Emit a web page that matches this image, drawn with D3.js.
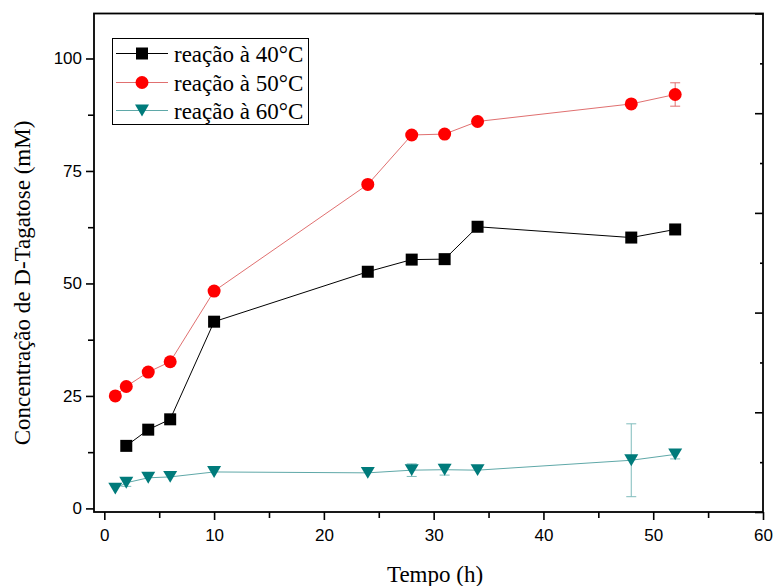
<!DOCTYPE html>
<html>
<head>
<meta charset="utf-8">
<script src="https://cdn.jsdelivr.net/npm/d3@7"></script>
<style>
  html, body { margin: 0; padding: 0; background: #fff; }
  svg { display: block; }
</style>
</head>
<body>
<svg id="chart" width="777" height="586"></svg>
<script>
// ---- data ----
const hours40 = [2, 4, 6, 10, 24, 28, 31, 34, 48, 52];
const values40 = [13.9, 17.5, 19.8, 41.5, 52.6, 55.3, 55.4, 62.6, 60.2, 62.0];
const errors40 = [0, 0, 0, 0, 0, 0, 0, 0, 0, 0];

const hours50 = [1, 2, 4, 6, 10, 24, 28, 31, 34, 48, 52];
const values50 = [25.0, 27.1, 30.3, 32.6, 48.3, 72.0, 83.0, 83.2, 86.0, 89.9, 92.0];
const errors50 = [0, 0, 0, 0, 0, 0, 0, 0, 0, 0, 2.6];

const hours60 = [1, 2, 4, 6, 10, 24, 28, 31, 34, 48, 52];
const values60 = [4.4, 5.7, 6.8, 7.0, 8.1, 7.9, 8.5, 8.6, 8.5, 10.7, 12.0];
const errors60 = [0, 0.8, 0, 0, 0, 0, 1.4, 1.2, 0, 8.1, 1.0];

const seriesNames = ["reação à 40°C", "reação à 50°C", "reação à 60°C"];
const xTicks = [0, 10, 20, 30, 40, 50, 60];
const xMinorTicks = [5, 15, 25, 35, 45, 55];
const yTicks = [0, 25, 50, 75, 100];
const yMinorTicks = [12.5, 37.5, 62.5, 87.5];
const xTitle = "Tempo (h)";
const yTitle = "Concentração de D-Tagatose (mM)";

// ---- layout ----
const svg = d3.select("#chart");
const plotL = 94, plotR = 763, plotT = 13.5, plotB = 512;

const x = d3.scaleLinear().domain([-0.94, 60]).range([plotL, plotR]);
const y = d3.scaleLinear().domain([-0.8, 110]).range([plotB, plotT]);
const yRight = d3.scaleLinear().domain([0, 100]).range([plotB, plotT]);

const series = [
  { name: seriesNames[0], xs: hours40, ys: values40, es: errors40, marker: "square",
    fill: "#000000", line: "#000000", err: "#555555" },
  { name: seriesNames[1], xs: hours50, ys: values50, es: errors50, marker: "circle",
    fill: "#ff0000", line: "#e07070", err: "#e07070" },
  { name: seriesNames[2], xs: hours60, ys: values60, es: errors60, marker: "triangle",
    fill: "#007b7b", line: "#5fa8a8", err: "#7fbcbc" }
];

const sansFont = "'Liberation Sans', Arial, sans-serif";
const serifFont = "'Liberation Serif', 'Times New Roman', serif";

// ---- axes ----
const gx = svg.append("g").attr("transform", `translate(0,${plotB})`)
  .call(d3.axisBottom(x).tickValues(xTicks).tickSize(8).tickPadding(9).tickFormat(d3.format("d")));
const gxMinor = svg.append("g").attr("transform", `translate(0,${plotB})`)
  .call(d3.axisBottom(x).tickValues(xMinorTicks).tickSize(6).tickFormat(""));

const gy = svg.append("g").attr("transform", `translate(${plotL},0)`)
  .call(d3.axisLeft(y).tickValues(yTicks).tickSize(8).tickPadding(4).tickFormat(d3.format("d")));
const gyMinor = svg.append("g").attr("transform", `translate(${plotL},0)`)
  .call(d3.axisLeft(y).tickValues(yMinorTicks).tickSize(6).tickFormat(""));

const gr = svg.append("g").attr("transform", `translate(${plotR},0)`)
  .call(d3.axisRight(yRight).tickValues([0, 20, 40, 60, 80, 100]).tickSize(-8).tickFormat(""));
const grMinor = svg.append("g").attr("transform", `translate(${plotR},0)`)
  .call(d3.axisRight(yRight).tickValues([10, 30, 50, 70, 90]).tickSize(-3).tickFormat(""));

[gx, gxMinor, gy, gyMinor, gr, grMinor].forEach(g => {
  g.select(".domain").remove();
  g.selectAll(".tick line").attr("stroke", "#000").attr("stroke-width", 1.6);
  g.selectAll(".tick text").attr("fill", "#000").style("font-family", sansFont).style("font-size", "17px");
});

// frame
svg.append("rect").attr("x", plotL).attr("y", plotT)
  .attr("width", plotR - plotL).attr("height", plotB - plotT)
  .attr("fill", "none").attr("stroke", "#000").attr("stroke-width", 1.8);

// axis titles
svg.append("text").attr("x", 435).attr("y", 582)
  .attr("text-anchor", "middle").style("font-family", serifFont).style("font-size", "23px")
  .text(xTitle);
svg.append("text").attr("transform", `translate(30,283) rotate(-90)`)
  .attr("text-anchor", "middle").style("font-family", serifFont).style("font-size", "23px")
  .text(yTitle);

// ---- marker paths ----
function markerPath(type, size) {
  if (type === "square") return d3.symbol().type(d3.symbolSquare).size(size * size)();
  if (type === "circle") return d3.symbol().type(d3.symbolCircle).size(Math.PI * (size / 2) * (size / 2))();
  const h = size * 0.85, w = size / 2;
  return `M${-w},${-h / 2}L${w},${-h / 2}L0,${h / 2}Z`;
}
const markerSize = { square: 12, circle: 13, triangle: 14 };

// ---- series ----
series.forEach(s => {
  const pts = s.xs.map((d, i) => ({ x: d, y: s.ys[i], e: s.es[i] }));
  const g = svg.append("g");
  g.append("path").datum(pts)
    .attr("fill", "none").attr("stroke", s.line).attr("stroke-width", 1)
    .attr("d", d3.line().x(d => x(d.x)).y(d => y(d.y)));
  const eb = g.selectAll(".err").data(pts.filter(d => d.e > 0)).enter().append("g");
  eb.append("line").attr("x1", d => x(d.x)).attr("x2", d => x(d.x))
    .attr("y1", d => y(d.y - d.e)).attr("y2", d => y(d.y + d.e))
    .attr("stroke", s.err).attr("stroke-width", 1);
  eb.append("line").attr("x1", d => x(d.x) - 5).attr("x2", d => x(d.x) + 5)
    .attr("y1", d => y(d.y + d.e)).attr("y2", d => y(d.y + d.e))
    .attr("stroke", s.err).attr("stroke-width", 1);
  eb.append("line").attr("x1", d => x(d.x) - 5).attr("x2", d => x(d.x) + 5)
    .attr("y1", d => y(d.y - d.e)).attr("y2", d => y(d.y - d.e))
    .attr("stroke", s.err).attr("stroke-width", 1);
  g.selectAll(".mk").data(pts).enter().append("path")
    .attr("transform", d => `translate(${x(d.x)},${y(d.y)})`)
    .attr("d", markerPath(s.marker, markerSize[s.marker]))
    .attr("fill", s.fill);
});

// ---- legend ----
const lg = svg.append("g");
lg.append("rect").attr("x", 112.5).attr("y", 38.5).attr("width", 196).attr("height", 86)
  .attr("fill", "#fff").attr("stroke", "#000").attr("stroke-width", 1);
const rowY = [53.5, 82.5, 110.5];
series.forEach((s, i) => {
  lg.append("line").attr("x1", 116).attr("x2", 168).attr("y1", rowY[i]).attr("y2", rowY[i])
    .attr("stroke", s.line).attr("stroke-width", 1);
  lg.append("path").attr("transform", `translate(142,${rowY[i]})`)
    .attr("d", markerPath(s.marker, markerSize[s.marker])).attr("fill", s.fill);
  lg.append("text").attr("x", 174).attr("y", rowY[i]).attr("dy", "0.35em")
    .style("font-family", serifFont).style("font-size", "23px").attr("fill", "#000")
    .text(s.name);
});
</script>
</body>
</html>
